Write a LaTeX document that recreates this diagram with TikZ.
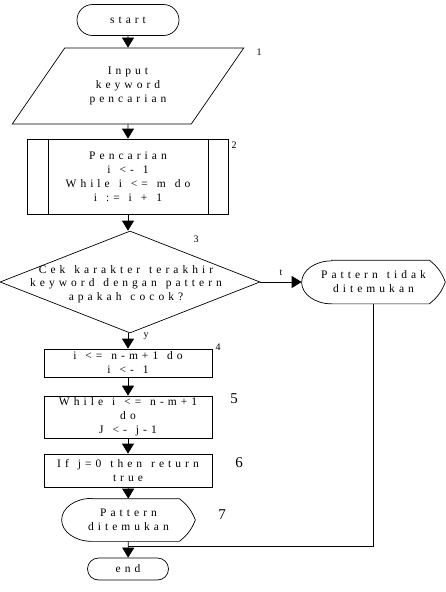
\documentclass[tikz,border=0pt]{standalone}
\usepackage{fontspec}
\setmainfont[LetterSpace=35, WordSpace=1.3]{Liberation Serif}
\usepackage{tikz}
\usetikzlibrary{shapes.geometric,shapes.misc,arrows.meta}
\tikzset{>={Triangle[width=12pt,length=10pt]}}
\tikzset{
  terminal/.style={draw, rounded rectangle, minimum width=102pt, minimum height=31pt, inner sep=0pt},
  io/.style={draw, trapezium, trapezium left angle=50, trapezium right angle=130,
    trapezium stretches=true, minimum width=232pt, minimum height=76pt, align=center, inner sep=0pt},
  proc/.style={draw, rectangle, minimum width=168pt, align=center, inner sep=0pt},
  decision/.style={draw, diamond, minimum width=260pt, minimum height=102pt, inner sep=0pt},
  display/.style={rectangle, minimum height=43pt, align=center, inner sep=0pt},
  num/.style={inner sep=0pt, font=\fontsize{10}{10}\selectfont},
  bignum/.style={inner sep=0pt, font=\fontsize{15}{15}\selectfont}
}
% display symbol drawn round a node
\newcommand{\displaybox}[1]{%
  \draw ([xshift=30pt]#1.north west) -- ([xshift=-16pt]#1.north east)
    to[bend left=15] (#1.east) to[bend left=15] ([xshift=-16pt]#1.south east)
    -- ([xshift=30pt]#1.south west)
    arc[start angle=270, end angle=90, x radius=30pt, y radius=21.5pt] -- cycle;}

\begin{document}
\begin{tikzpicture}[x=1pt, y=1pt, auto, line width=0.7pt, font=\fontsize{11.5}{14}\selectfont]
	\useasboundingbox (0,0) rectangle (446,-592);
	\node(start)[terminal] at (128,-20){start};
	\node(input)[io] at (128,-86){Input\\keyword\\pencarian};
	\node(cari)[proc, minimum width=201pt, minimum height=75pt] at (128,-176.5){Pencarian\\i <- 1\\While i <= m do\\i := i + 1};
	\draw([xshift=21pt]cari.north west) -- ([xshift=21pt]cari.south west);
	\draw([xshift=-21pt]cari.north east) -- ([xshift=-21pt]cari.south east);
	\node(cek)[decision, label={[align=center, xshift=-4pt, yshift=-2pt, font=\fontsize{11.5}{13.5}\selectfont]center:Cek karakter terakhir\\keyword dengan pattern\\apakah cocok?}] at (130,-282){};
	\node(tidak)[display, minimum width=143pt] at (373.5,-282){Pattern tidak\\ditemukan};
	\displaybox{tidak}
	\node(loop)[proc, minimum height=28pt] at (128,-363){i <= n-m+1 do\\i <- 1};
	\node(while)[proc, minimum height=42pt] at (128,-417){While i <= n-m+1\\do\\J <- j-1};
	\node(cekj)[proc, minimum height=33pt] at (128,-470.5){If j=0 then return\\true};
	\node(ketemu)[display, minimum width=133pt, minimum height=42pt] at (128.5,-520){Pattern\\ditemukan};
	\displaybox{ketemu}
	\node(end)[terminal, minimum width=81pt, minimum height=22pt] at (128,-569){end};
	\coordinate(gabung) at (128,-546);
	% step numbers
	\node(n1)[num] at (259,-52){1};
	\node(n2)[num] at (234,-145){2};
	\node(n3)[num] at (196,-239){3};
	\node(n4)[num] at (218,-347){4};
	\node(n5)[bignum] at (234,-399){5};
	\node(n6)[bignum] at (239,-463){6};
	\node(n7)[bignum] at (222,-515){7};
	\draw[->](start) to (input);
	\draw[->](input) to (cari);
	\draw[->](cari.south) to (cari.south |- cek.north);
	\draw[->](cek.east) to node[yshift=3pt, font=\fontsize{10}{10}\selectfont]{t} (tidak.west);
	\draw[->](loop.north |- cek.south) to node[pos=0.2, xshift=12pt, font=\fontsize{10}{10}\selectfont]{y} (loop.north);
	\draw[->](loop) to (while);
	\draw[->](while) to (cekj);
	\draw[->](cekj) to (ketemu);
	\draw[->](ketemu) to (end);
	\draw(tidak.south) |- (gabung);
\end{tikzpicture}
\end{document}
